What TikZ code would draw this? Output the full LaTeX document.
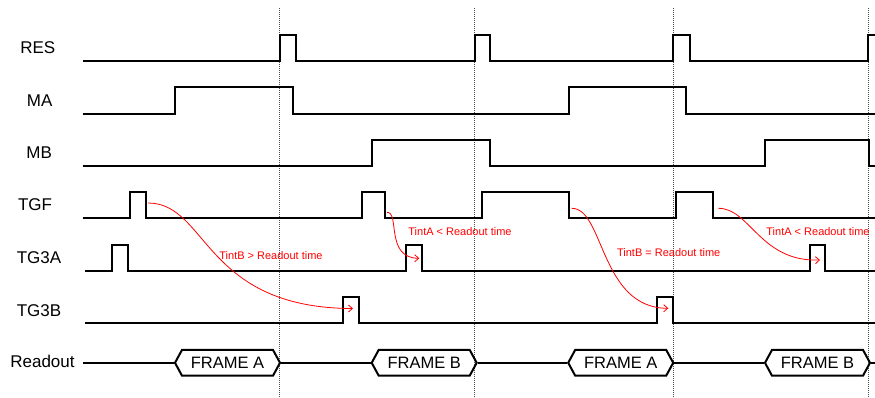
\documentclass[tikz,border=0pt]{standalone}
\usepackage{fontspec}
\setmainfont{Liberation Sans}
\usetikzlibrary{arrows.meta,shapes.symbols}

\tikzset{
  sig/.style={line width=2pt,line join=miter},
  tick/.style={black!70,line width=0.7pt,dash pattern=on 1pt off 1pt},
  lab/.style={anchor=base,inner sep=0pt,font=\fontsize{17}{20}\selectfont},
  frm/.style={signal,signal to=west and east,signal pointer angle=123,draw,line width=2pt,
    minimum width=105pt,minimum height=25.7pt,inner sep=0pt,font=\fontsize{16.5}{19}\selectfont},
  note/.style={anchor=base,inner sep=0pt,text=red,font=\fontsize{11}{13}\selectfont},
  tint/.style={red,line width=0.8pt,->}
}

\begin{document}
\begin{tikzpicture}[x=1pt,y=-1pt,>={Straight Barb[length=4pt,width=7pt]}]
\useasboundingbox (0,0) rectangle (875,398);

% frame boundaries
\foreach \x in {279.5,474.5,673.3,868}
  \draw[tick] (\x,8) -- (\x,398);

% signal names
\node[lab] (res) at (37.8,54) {RES};
\node[lab] (ma) at (39.7,106.7) {MA};
\node[lab] (mb) at (39.2,159) {MB};
\node[lab] (tgf) at (35,210.7) {TGF};
\node[lab] (tga) at (39,263.3) {TG3A};
\node[lab] (tgb) at (39,316) {TG3B};
\node[lab] (readout) at (42.5,367.3) {Readout};

% waveforms
\draw[sig] (83,61) -| (279.5,35) -| (296,61) -| (474.5,35) -| (490,61)
  -| (673,35) -| (690,61) -| (868,35) -- (875,35);
\draw[sig] (83,114) -| (175,87.5) -| (293,114) -| (568.7,87.5) -| (686,114) -- (875,114);
\draw[sig] (83,166.5) -| (371.7,140) -| (489.7,166.5) -| (765.3,140) -| (869.3,166.5) -- (875,166.5);
\draw[sig] (83,218.3) -| (130,192.3) -| (146,218.3) -| (361.7,192.3) -| (385.3,218.3)
  -| (481.7,192.3) -| (568.7,218.3) -| (676,192.3) -| (713.3,218.3) -- (875,218.3);
\draw[sig] (85,270.7) -| (111.7,245) -| (127.7,270.7) -| (405.7,245) -| (421.7,270.7)
  -| (810,245) -| (825.3,270.7) -- (875,270.7);
\draw[sig] (85,323.3) -| (343,296.7) -| (358.7,323.3) -| (657.3,296.7) -| (673,323.3) -- (875,323.3);

% readout frames
\node[frm] (fa1) at (227.5,362.8) {FRAME A};
\node[frm] (fb1) at (424.2,362.8) {FRAME B};
\node[frm] (fa2) at (620.7,362.8) {FRAME A};
\node[frm] (fb2) at (817.5,362.8) {FRAME B};
\coordinate (rbeg) at (83,362.8);
\coordinate (rend) at (875,362.8);
\draw[sig] (rbeg) -- (fa1.west);
\draw[sig] (fa1.east) -- (fb1.west);
\draw[sig] (fb1.east) -- (fa2.west);
\draw[sig] (fa2.east) -- (fb2.west);
\draw[sig] (fb2.east) -- (rend);

% integration times
\coordinate (s1) at (148,203);   \coordinate (e1) at (353,308.5);
\coordinate (s2) at (387,212.3); \coordinate (e2) at (419.3,258.3);
\coordinate (s3) at (571.7,208.3); \coordinate (e3) at (668.3,308.3);
\coordinate (s4) at (718.3,208.3); \coordinate (e4) at (820,260);
\draw[tint] (s1) .. controls (208,203) and (203,308) .. (e1);
\draw[tint] (s2) .. controls (400,212) and (385,258) .. (e2);
\draw[tint] (s3) .. controls (604,208) and (600,308) .. (e3);
\draw[tint] (s4) .. controls (750,208) and (760,262) .. (e4);
\node[note] (nb1) at (271,259) {TintB > Readout time};
\node[note] (na1) at (460,236) {TintA < Readout time};
\node[note] (nb2) at (668.7,256.7) {TintB = Readout time};
\node[note] (na2) at (818,236) {TintA < Readout time};
\end{tikzpicture}
\end{document}
